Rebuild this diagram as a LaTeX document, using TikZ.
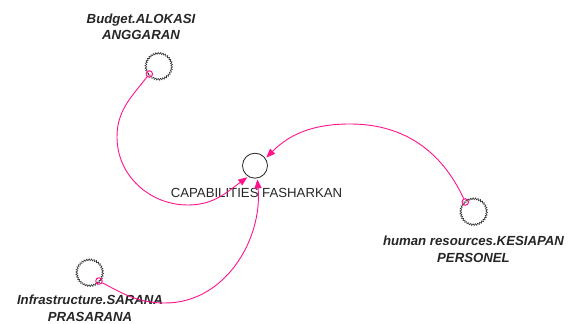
\documentclass[tikz,border=0pt]{standalone}
\usepackage{fontspec}
\setmainfont{Liberation Sans}
\usetikzlibrary{arrows.meta,decorations.pathmorphing}

\definecolor{linkpink}{RGB}{255,20,140}

\tikzset{
  level/.style={circle, draw=black!85, line width=0.8pt, minimum size=25pt, inner sep=0pt},
  shadowvar/.style={circle, draw=black!80, line width=0.6pt, minimum size=26pt, inner sep=0pt,
    decorate, decoration={zigzag, segment length=2.4pt, amplitude=0.9pt}},
  tail/.style={circle, draw=linkpink, line width=1pt, minimum size=6.5pt, inner sep=0pt},
  varlabel/.style={align=center, font=\fontsize{13.2}{16.7}\selectfont\bfseries\itshape, text=black!85, inner sep=0pt},
  mainlabel/.style={font=\fontsize{13.2}{16}\selectfont, text=black!85, inner sep=0pt},
  link/.style={draw=linkpink, line width=0.9pt, -{Triangle[length=9pt,width=7pt]}, shorten >=1pt}
}

\begin{document}
\begin{tikzpicture}[x=1pt,y=1pt]
  \useasboundingbox (0,0) rectangle (574,324);

  % central variable
  \node[level] (cap) at (255,158.3) {};
  \node[mainlabel] (caplbl) at (256.5,130.7) {CAPABILITIES FASHARKAN};

  % shadow variables and their labels
  \node[shadowvar] (bud) at (158.8,257.7) {};
  \node[varlabel] (budlbl) at (141,297.3) {Budget.ALOKASI\\ANGGARAN};

  \node[shadowvar] (hum) at (473.7,112.3) {};
  \node[varlabel] (humlbl) at (473.5,74.8) {human resources.KESIAPAN\\PERSONEL};

  \node[shadowvar] (inf) at (89.7,51.3) {};
  \node[varlabel] (inflbl) at (90,15.7) {Infrastructure.SARANA\\PRASARANA};

  % link tails
  \node[tail] (budt) at (149.3,250) {};
  \node[tail] (humt) at (465.3,122) {};
  \node[tail] (inft) at (99,43) {};

  % causal links
  \draw[link] (budt) to[out=232,in=90] (117,187)
                     to[out=270,in=180] (188,119)
                     to[out=0,in=216] (cap.238);
  \draw[link] (inft) to[out=-28,in=180] (165,21)
                     to[out=0,in=275] (cap.280);
  \draw[link] (humt) to[out=115,in=0] (350,200)
                     to[out=180,in=45] (cap.35);
\end{tikzpicture}
\end{document}
